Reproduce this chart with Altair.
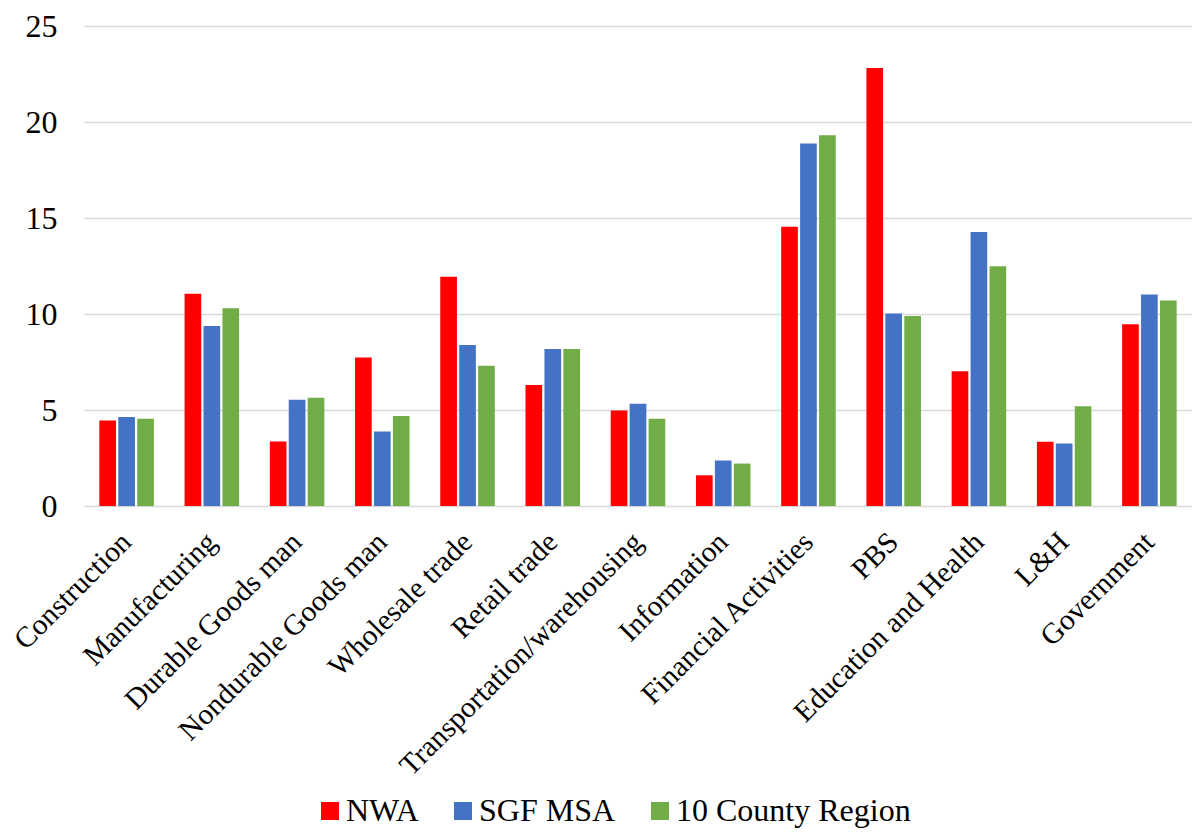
import altair as alt
import pandas as pd

categories = [
    "Construction", "Manufacturing", "Durable Goods man", "Nondurable Goods man",
    "Wholesale trade", "Retail trade", "Transportation/warehousing", "Information",
    "Financial Activities", "PBS", "Education and Health", "L&H", "Government",
]
series = ["NWA", "SGF MSA", "10 County Region"]
colors = ["#FF0000", "#4472C4", "#70AD47"]

nwa = [4.45, 11.06, 3.36, 7.73, 11.94, 6.30, 4.97, 1.60, 14.54, 22.81, 7.02, 3.35, 9.46]
sgf = [4.64, 9.37, 5.54, 3.88, 8.39, 8.18, 5.32, 2.37, 18.88, 10.03, 14.27, 3.25, 11.01]
county = [4.54, 10.30, 5.64, 4.69, 7.30, 8.18, 4.54, 2.21, 19.31, 9.89, 12.49, 5.19, 10.70]

rows = []
for s, vals in zip(series, [nwa, sgf, county]):
    for c, v in zip(categories, vals):
        rows.append({"cat": c, "series": s, "value": v})
df = pd.DataFrame(rows)

FONT = "Liberation Serif"

chart = alt.Chart(df).mark_bar().encode(
    x=alt.X(
        "cat:N",
        sort=categories,
        scale=alt.Scale(paddingInner=0.36, paddingOuter=0.18),
        axis=alt.Axis(
            title=None, labelAngle=-45, labelAlign="right", labelBaseline="middle",
            labelFont=FONT, labelFontSize=29.33, labelColor="black", domain=False,
            ticks=False, tickSize=0, labelPadding=31, labelLimit=600,
        ),
    ),
    xOffset=alt.XOffset(
        "series:N", sort=series, scale=alt.Scale(paddingInner=0.12, paddingOuter=0)
    ),
    y=alt.Y(
        "value:Q",
        scale=alt.Scale(domain=[0, 25], nice=False),
        axis=alt.Axis(
            title=None, values=[0, 5, 10, 15, 20, 25], labelFont=FONT,
            labelFontSize=32, labelColor="black", domain=False, ticks=False,
            tickSize=0, labelPadding=27, gridColor="#d9d9d9", gridWidth=1.5,
        ),
    ),
    color=alt.Color(
        "series:N",
        sort=series,
        scale=alt.Scale(domain=series, range=colors),
        legend=alt.Legend(
            title=None, orient="none", legendX=230, legendY=769,
            direction="horizontal", symbolType="square", symbolSize=324,
            symbolStrokeWidth=0, labelFont=FONT, labelFontSize=32,
            labelColor="black", columnPadding=28, labelOffset=0, labelLimit=400,
            padding=0,
        ),
    ),
).properties(
    width=1108,
    height=480,
    autosize=alt.AutoSizeParams(type="none"),
    padding={"left": 76, "top": 18, "right": 0, "bottom": 326},
).configure_view(stroke=None)

chart.save("out.html", embed_options={"renderer": "svg", "actions": False})
